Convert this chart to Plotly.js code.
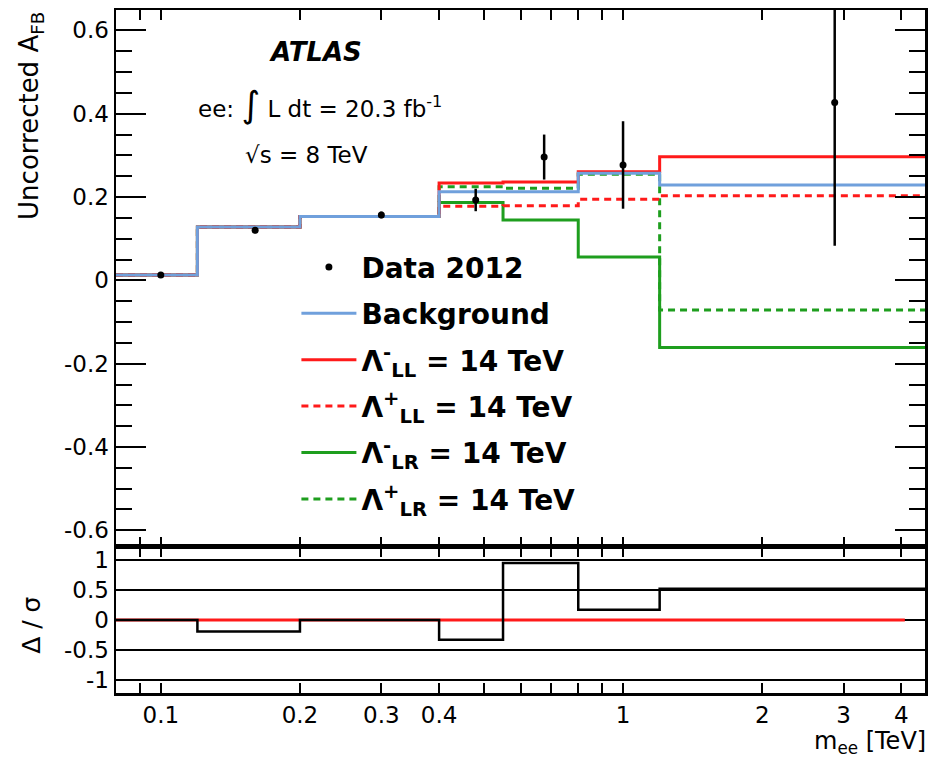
<!DOCTYPE html>
<html>
<head>
<meta charset="utf-8">
<script src="https://cdn.plot.ly/plotly-3.0.1.min.js"></script>
<style>html,body{margin:0;padding:0;background:#fff;}#plot{width:933px;height:757px;}</style>
</head>
<body>
<div id="plot"></div>
<script>
// ---- data ----
var binEdges = [0.08, 0.12, 0.2, 0.4, 0.55, 0.8, 1.2, 4.5];
var background = [0.013, 0.128, 0.153, 0.213, 0.213, 0.257, 0.229];
var llMinus   = [0.013, 0.128, 0.153, 0.234, 0.236, 0.261, 0.297];
var llPlus    = [0.013, 0.128, 0.153, 0.178, 0.179, 0.195, 0.203];
var lrMinus   = [0.013, 0.128, 0.153, 0.187, 0.145, 0.056, -0.161];
var lrPlus    = [0.013, 0.128, 0.153, 0.225, 0.221, 0.255, -0.071];
var dataX   = [0.1, 0.16, 0.3, 0.48, 0.675, 1.0, 2.87];
var dataY   = [0.013, 0.12, 0.157, 0.193, 0.296, 0.277, 0.427];
var dataErr = [0.006, 0.007, 0.008, 0.027, 0.054, 0.105, 0.344];
var ratio   = [0, -0.19, 0, -0.33, 0.95, 0.17, 0.52];
var ratioRefX = [0.08, 4.07];
var ratioRefY = [0, 0];
var xTickVals = [0.1, 0.2, 0.3, 0.4, 1, 2, 3, 4];
var xTickText = ['0.1', '0.2', '0.3', '0.4', '1', '2', '3', '4'];
var xMinorVals = [0.09, 0.5, 0.6, 0.7, 0.8, 0.9];
var xMajorVals = [0.1, 1];
var yTickVals = [-0.6, -0.4, -0.2, 0, 0.2, 0.4, 0.6];
var yTickText = ['-0.6', '-0.4', '-0.2', '0', '0.2', '0.4', '0.6'];
var rTickVals = [-1, -0.5, 0, 0.5, 1];
var rTickText = ['-1', '-0.5', '0', '0.5', '1'];

function stepY(v){ return v.concat([v[v.length-1]]); }

var BLUE = '#70a0dc', RED = '#ff1a1a', GREEN = '#1e9e1e';
var FONT = 'DejaVu Sans, Liberation Sans, Arial, sans-serif';

function hist(vals, name, color, dash, rank){
  return {x: binEdges, y: stepY(vals), type:'scatter', mode:'lines',
    line:{shape:'hv', color:color, width:3, dash:dash},
    name:name, legendrank:rank, legendgroup:'g'+rank, xaxis:'x', yaxis:'y', hoverinfo:'skip'};
}

var traces = [
  hist(lrPlus, 'Λ<sup>+</sup><sub>LR</sub> = 14 TeV', GREEN, '7px,5px', 6),
  hist(lrMinus,'Λ<sup>-</sup><sub>LR</sub> = 14 TeV', GREEN, 'solid', 5),
  hist(llPlus, 'Λ<sup>+</sup><sub>LL</sub> = 14 TeV', RED, '7px,5px', 4),
  hist(llMinus,'Λ<sup>-</sup><sub>LL</sub> = 14 TeV', RED, 'solid', 3),
  hist(background,'Background', BLUE, 'solid', 2),
  {x:dataX, y:dataY, type:'scatter', mode:'markers', name:'Data 2012', legendrank:1, legendgroup:'g1',
   marker:{color:'black', size:7, symbol:'circle'},
   error_y:{type:'data', array:dataErr, visible:true, color:'black', thickness:2.5, width:0},
   xaxis:'x', yaxis:'y'},
  {x:ratioRefX, y:ratioRefY, type:'scatter', mode:'lines', line:{color:RED, width:3},
   showlegend:false, xaxis:'x2', yaxis:'y2', hoverinfo:'skip'},
  {x:binEdges, y:stepY(ratio), type:'scatter', mode:'lines', line:{shape:'hv', color:'black', width:2.5},
   showlegend:false, xaxis:'x2', yaxis:'y2', hoverinfo:'skip'}
];

var xr = [Math.log10(binEdges[0]), Math.log10(binEdges[binEdges.length-1])];
var splitY = 0.2138;
var tickFont = {family:FONT, size:23, color:'black'};

function xBase(anchor, labels, len){
  return {type:'log', range:xr, anchor:anchor, showline:true, linecolor:'black', linewidth:2.5,
    mirror:'allticks', ticks:'inside', ticklen:len, tickwidth:2, tickcolor:'black',
    tickmode:'array', tickvals:xTickVals, ticktext:xTickText, showticklabels:labels,
    minor:{tickmode:'array', tickvals:xMinorVals, ticks:'inside', ticklen:len, tickwidth:2, tickcolor:'black'},
    tickfont:tickFont, showgrid:false, zeroline:false};
}
function xLong(over, anchor){
  return {type:'log', range:xr, overlaying:over, anchor:anchor, showline:false,
    mirror:'allticks', ticks:'inside', ticklen:21, tickwidth:2, tickcolor:'black',
    tickmode:'array', tickvals:xMajorVals, showticklabels:false, showgrid:false, zeroline:false};
}

var layout = {
  width:933, height:757,
  margin:{l:116, r:8, t:10, b:64},
  paper_bgcolor:'white', plot_bgcolor:'white',
  showlegend:true,
  legend:{x:0.223, y:0.66, xanchor:'left', yanchor:'top', bgcolor:'rgba(0,0,0,0)',
    font:{family:FONT, size:28, color:'black', weight:'bold'}, itemwidth:55, tracegroupgap:7,
    traceorder:'grouped'},
  xaxis: Object.assign(xBase('y', false, 10), {domain:[0,1]}),
  xaxis2: Object.assign(xBase('y2', true, 10), {domain:[0,1]}),
  xaxis3: xLong('x', 'y'),
  xaxis4: xLong('x2', 'y2'),
  yaxis:{domain:[splitY,1], range:[-0.64,0.649], anchor:'x', showline:true, linecolor:'black', linewidth:2.5,
    mirror:'allticks', ticks:'inside', ticklen:30, tickwidth:2, tickcolor:'black',
    tickmode:'array', tickvals:yTickVals, ticktext:yTickText, tickfont:tickFont,
    minor:{dtick:0.05, ticklen:16, tickwidth:2, tickcolor:'black', ticks:'inside'},
    showgrid:false, zeroline:false},
  yaxis2:{domain:[0,splitY], range:[-1.217,1.217], anchor:'x2', showline:true, linecolor:'black', linewidth:2.5,
    mirror:true, ticks:'', tickmode:'array', tickvals:rTickVals, ticktext:rTickText, tickfont:tickFont,
    showgrid:true, gridcolor:'black', gridwidth:2.5, zeroline:false},
  annotations:[
    {text:'Uncorrected A<sub>FB</sub>', xref:'paper', yref:'paper', x:-0.105, y:0.845, textangle:-90,
     xanchor:'center', yanchor:'middle', showarrow:false, font:{family:FONT, size:26, color:'black'}},
    {text:'Δ / σ', xref:'paper', yref:'paper', x:-0.104, y:0.0996, textangle:-90,
     xanchor:'center', yanchor:'middle', showarrow:false, font:{family:FONT, size:25, color:'black'}},
    {text:'m<sub>ee</sub> [TeV]', xref:'paper', yref:'paper', x:1.004, y:-0.0722,
     xanchor:'right', yanchor:'middle', showarrow:false, font:{family:FONT, size:24, color:'black'}},
    {text:'<b><i>ATLAS</i></b>', xref:'paper', yref:'paper', x:0.247, y:0.9385,
     xanchor:'center', yanchor:'middle', showarrow:false, font:{family:FONT, size:26, color:'black'}},
    {text:'ee: <span style="font-size:36px">∫</span> L dt = 20.3 fb<sup>-1</sup>', xref:'paper', yref:'paper', x:0.099, y:0.861,
     xanchor:'left', yanchor:'middle', showarrow:false, font:{family:FONT, size:23, color:'black'}},
    {text:'√s = 8 TeV', xref:'paper', yref:'paper', x:0.157, y:0.788,
     xanchor:'left', yanchor:'middle', showarrow:false, font:{family:FONT, size:23, color:'black'}}
  ]
};

Plotly.newPlot('plot', traces, layout, {staticPlot:true, displayModeBar:false});
</script>
</body>
</html>
